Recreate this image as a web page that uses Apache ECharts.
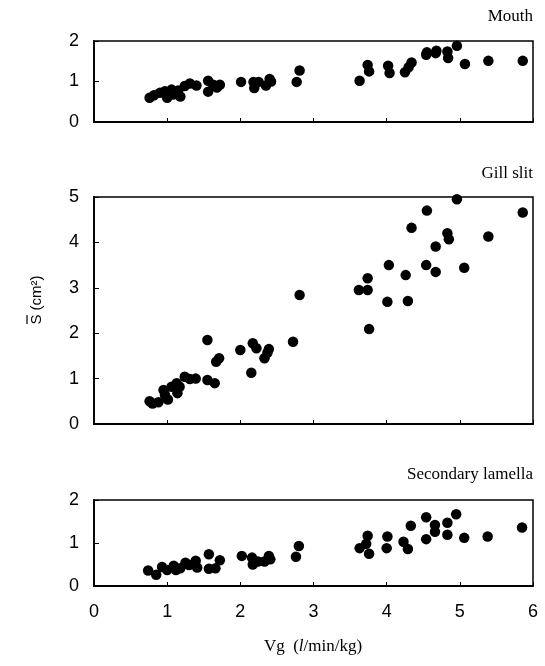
<!DOCTYPE html>
<html>
<head>
<meta charset="utf-8">
<script src="https://cdn.jsdelivr.net/npm/echarts@6/dist/echarts.min.js"></script>
<style>html,body{margin:0;padding:0;background:#fff;}#c{width:545px;height:666px;}</style>
</head>
<body>
<div id="c"></div>
<script>
var xTicks = ['0','1','2','3','4','5','6'];
var panelTitles = ['Mouth', 'Gill slit', 'Secondary lamella'];
var yMax = [2, 5, 2];

var mouthX = [0.76,0.82,0.90,0.97,1.00,1.06,1.08,1.15,1.18,1.24,1.31,1.40,1.56,1.56,1.63,1.68,1.72,2.01,2.18,2.19,2.25,2.35,2.40,2.42,2.77,2.81,3.63,3.74,3.76,4.02,4.04,4.25,4.30,4.34,4.54,4.55,4.67,4.68,4.83,4.84,4.96,5.07,5.39,5.86];
var mouthY = [0.60,0.66,0.72,0.76,0.60,0.80,0.68,0.78,0.63,0.89,0.95,0.90,1.02,0.75,0.92,0.85,0.92,0.99,0.99,0.84,0.99,0.90,1.06,1.00,0.99,1.27,1.02,1.41,1.25,1.39,1.21,1.23,1.35,1.47,1.66,1.72,1.70,1.76,1.74,1.58,1.88,1.43,1.51,1.51];

var gillX = [0.76,0.80,0.88,0.95,0.97,1.01,1.06,1.13,1.14,1.17,1.24,1.31,1.39,1.55,1.55,1.65,1.67,1.71,2.00,2.15,2.17,2.22,2.33,2.37,2.39,2.72,2.81,3.62,3.74,3.74,3.76,4.01,4.03,4.26,4.29,4.34,4.54,4.55,4.67,4.67,4.83,4.85,4.96,5.06,5.39,5.86];
var gillY = [0.50,0.45,0.48,0.75,0.64,0.54,0.82,0.90,0.68,0.82,1.04,0.99,1.00,1.85,0.97,0.90,1.37,1.45,1.63,1.13,1.78,1.67,1.45,1.57,1.65,1.81,2.84,2.95,2.95,3.21,2.09,2.69,3.50,3.28,2.71,4.32,3.50,4.70,3.91,3.35,4.20,4.07,4.95,3.44,4.13,4.66];

var lamellaX = [0.74,0.85,0.93,1.00,1.09,1.12,1.18,1.25,1.30,1.39,1.41,1.57,1.57,1.66,1.72,2.02,2.16,2.17,2.24,2.33,2.39,2.41,2.76,2.80,3.63,3.72,3.74,3.76,4.00,4.01,4.23,4.29,4.33,4.54,4.54,4.66,4.66,4.83,4.83,4.95,5.06,5.38,5.85];
var lamellaY = [0.36,0.26,0.44,0.37,0.47,0.37,0.41,0.54,0.49,0.59,0.43,0.74,0.40,0.41,0.60,0.70,0.66,0.50,0.57,0.57,0.70,0.62,0.68,0.93,0.88,0.98,1.17,0.75,0.88,1.15,1.03,0.86,1.40,1.60,1.09,1.42,1.26,1.47,1.19,1.67,1.12,1.15,1.36];

function zip(a, b) { return a.map(function (v, i) { return [v, b[i]]; }); }
var seriesData = [zip(mouthX, mouthY), zip(gillX, gillY), zip(lamellaX, lamellaY)];

var gridLayout = [
  { left: 94, right: 12, top: 41, height: 81 },
  { left: 94, right: 12, top: 197, height: 227 },
  { left: 94, right: 12, top: 500, height: 86 }
];

var sans = 'Liberation Sans, Arial, sans-serif';
var serif = 'Liberation Serif, Times New Roman, serif';

var grids = [], xAxes = [], yAxes = [], series = [];
for (var i = 0; i < 3; i++) {
  grids.push(Object.assign({ show: true, borderColor: '#000', borderWidth: 1.5, backgroundColor: 'transparent' }, gridLayout[i]));
  xAxes.push({
    type: 'value', gridIndex: i, min: 0, max: 6, interval: 1,
    axisLine: { show: true, onZero: false, lineStyle: { color: '#000', width: 1.8 } },
    axisTick: { show: true, inside: true, length: 4, lineStyle: { color: '#000', width: 1 } },
    axisLabel: { show: i === 2, color: '#000', fontSize: 18, fontFamily: sans, margin: 17,
      formatter: function (v) { return xTicks[Math.round(v)]; } },
    splitLine: { show: false }
  });
  yAxes.push({
    type: 'value', gridIndex: i, min: 0, max: yMax[i], interval: 1,
    axisLine: { show: true, onZero: false, lineStyle: { color: '#000', width: 1.8 } },
    axisTick: { show: true, inside: true, length: 5, lineStyle: { color: '#000', width: 1 } },
    axisLabel: { color: '#000', fontSize: 18, fontFamily: sans, margin: 15 },
    splitLine: { show: false }
  });
  series.push({
    type: 'scatter', xAxisIndex: i, yAxisIndex: i,
    data: seriesData[i], symbol: 'circle', symbolSize: 10.5,
    itemStyle: { color: '#000', opacity: 1 }, silent: true
  });
}

var titleY = [18, 175, 476];
var graphics = panelTitles.map(function (t, i) {
  return { type: 'text', right: 12, top: titleY[i] - 10,
    style: { text: t, fill: '#000', font: '17px ' + serif } };
});
graphics.push({
  type: 'group', x: 37, y: 300, rotation: Math.PI / 2,
  children: [
    { type: 'text', x: 0, y: 0,
      style: { text: 'S (cm\u00B2)', fill: '#000', font: '15px ' + sans, align: 'center', verticalAlign: 'middle' } },
    { type: 'line', shape: { x1: -24, y1: -10, x2: -15, y2: -10 }, style: { stroke: '#000', lineWidth: 1.2 } }
  ]
});
graphics.push({
  type: 'text', x: 313, y: 647,
  style: {
    text: '{n|Vg  (}{i|l}{n|/min/kg)}',
    align: 'center', verticalAlign: 'middle',
    rich: {
      n: { fill: '#000', fontSize: 17, fontFamily: serif },
      i: { fill: '#000', fontSize: 17, fontFamily: serif, fontStyle: 'italic' }
    }
  }
});

var chart = echarts.init(document.getElementById('c'), null, { renderer: 'canvas' });
chart.setOption({
  animation: false,
  backgroundColor: '#fff',
  grid: grids, xAxis: xAxes, yAxis: yAxes, series: series,
  graphic: graphics
});
</script>
</body>
</html>
